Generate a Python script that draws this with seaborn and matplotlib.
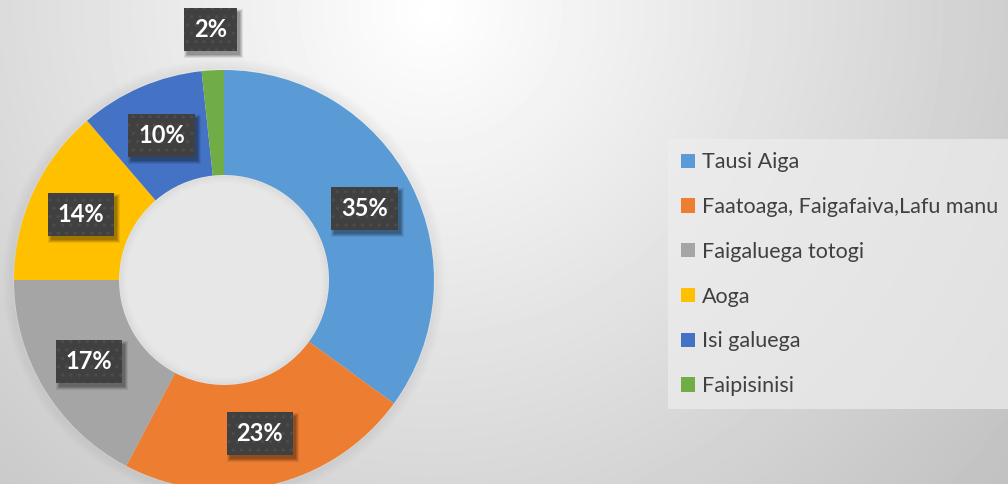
import numpy as np
import matplotlib.pyplot as plt
import matplotlib.transforms as mtransforms
from matplotlib.patches import Circle, Rectangle
import seaborn as sns

# Data
categories = ["Tausi Aiga", "Faatoaga, Faigafaiva,Lafu manu", "Faigaluega totogi",
              "Aoga", "Isi galuega", "Faipisinisi"]
shares = [35.0, 22.7, 17.3, 13.7, 9.6, 1.7]
colors = ["#5b9bd5", "#ed7d31", "#a5a5a5", "#ffc000", "#4472c4", "#70ad47"]

sns.set_theme(style="white")
plt.rcParams['font.family'] = ['Lato', 'DejaVu Sans']
plt.rcParams['hatch.linewidth'] = 1.2

W, H = 1008, 484
fig = plt.figure(figsize=(W / 100, H / 100), dpi=100)

# radial gradient background
bg = fig.add_axes([0, 0, 1, 1])
bg.axis('off')
yy, xx = np.mgrid[0:H, 0:W]
dist = np.hypot(xx - 430, yy - 10)
shade = np.clip(1 - 0.19 * dist / 580, 0.72, 1)
bg.imshow(shade, cmap='gray', vmin=0, vmax=1, aspect='auto', interpolation='bilinear')

ax = fig.add_axes([0, 0, 1, 1])
ax.patch.set_alpha(0)
ax.set_xlim(0, W)
ax.set_ylim(0, H)
cx, cy, R = 224, H - 280, 210

# soft shadow round the ring
for i in range(1, 12):
    ax.add_patch(Circle((cx, cy), R + i, fill=False, lw=1.5, ec='black',
                        alpha=0.03 * (12 - i) / 12, zorder=0))
# hole
ax.add_patch(Circle((cx, cy), R / 2, fc='#e7e7e7', ec='none', zorder=0))
for i in range(1, 8):
    ax.add_patch(Circle((cx, cy), R / 2 - i, fill=False, lw=1.5, ec='black',
                        alpha=0.025 * (8 - i) / 8, zorder=0))

wedges, _ = ax.pie(shares, colors=colors, startangle=90, counterclock=False,
                   radius=R, center=(cx, cy),
                   wedgeprops=dict(width=R / 2, linewidth=0))

total = sum(shares)
labels = []
for i, w in enumerate(wedges):
    ang = np.deg2rad((w.theta1 + w.theta2) / 2)
    r = 251 if i == len(wedges) - 1 else 0.75 * R
    x, y = cx + r * np.cos(ang), cy + r * np.sin(ang)
    labels.append(ax.text(x, y, f"{round(shares[i] / total * 100)}%", ha='center',
                          va='center', fontsize=17, fontweight='bold', color='white',
                          zorder=5,
                          bbox=dict(boxstyle='square,pad=0.42', fc='#404040',
                                    ec='#4c4c4c', lw=0, hatch='..')))

ax.set_xlim(0, W)
ax.set_ylim(0, H)
ax.axis('off')

leg = ax.legend(wedges, categories, loc='upper left',
                bbox_to_anchor=(668 / W, 1 - 139 / H), bbox_transform=fig.transFigure,
                frameon=True, fancybox=False, facecolor='#ededed', edgecolor='none',
                framealpha=0.7, fontsize=15.5, labelcolor='#404040',
                handlelength=0.65, handleheight=0.65, handletextpad=0.3,
                labelspacing=1.15, borderpad=0.62, borderaxespad=0)

# blurred drop shadows behind the label boxes
fig.canvas.draw()
for t in labels:
    bb = t.get_bbox_patch().get_window_extent()
    for k, a in [(3, 0.08), (2, 0.1), (1, 0.12), (0, 0.14)]:
        ax.add_patch(Rectangle((bb.x0 + 3 - k, bb.y0 - 4 - k), bb.width + 2 * k,
                               bb.height + 2 * k, transform=mtransforms.IdentityTransform(),
                               fc='black', ec='none', alpha=a, zorder=4))
ax.set_xlim(0, W)
ax.set_ylim(0, H)

fig.savefig('out.png', dpi=100)
